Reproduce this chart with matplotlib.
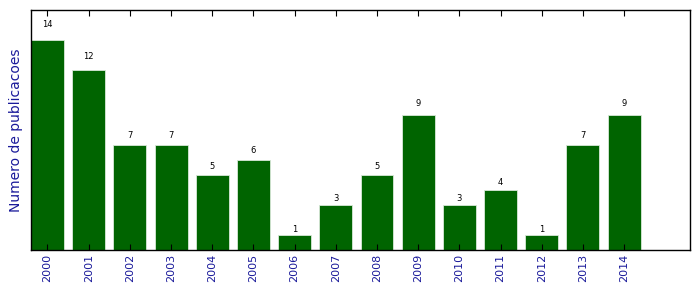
import numpy as np
import matplotlib
matplotlib.use("Agg")
import matplotlib.pyplot as plt

anos = [2000, 2001, 2002, 2003, 2004, 2005, 2006, 2007,
        2008, 2009, 2010, 2011, 2012, 2013, 2014]
publicacoes = [14, 12, 7, 7, 5, 6, 1, 3, 5, 9, 3, 4, 1, 7, 9]

fig = plt.figure(figsize=(6.99, 2.92), dpi=100)
ax = fig.add_axes([31/699, 1-250/292, 659/699, 240/292])

x = np.arange(len(anos))
bars = ax.bar(x, publicacoes, 0.8, color='#006400', edgecolor='#d8e8d8', linewidth=0.6)

for b in bars:
    h = b.get_height()
    ax.text(b.get_x() + b.get_width()/2., 1.05*h, '%d' % int(h),
            ha='center', va='bottom', fontsize=6)

ax.set_xlim(-0.4, 15.6)
ax.set_ylim(0, 16)
ax.set_yticks([])
ax.set_xticks(x)
ax.set_xticklabels([str(a) for a in anos], rotation=90, color='#1a1a9a', fontsize=8)
ax.tick_params(axis='x', direction='in', top=True, length=4, width=0.8, pad=3)
ax.set_ylabel('Numero de publicacoes', color='#1a1a9a', fontsize=10, labelpad=6)
for s in ax.spines.values():
    s.set_linewidth(1.0)

fig.savefig('out.png', dpi=100)
